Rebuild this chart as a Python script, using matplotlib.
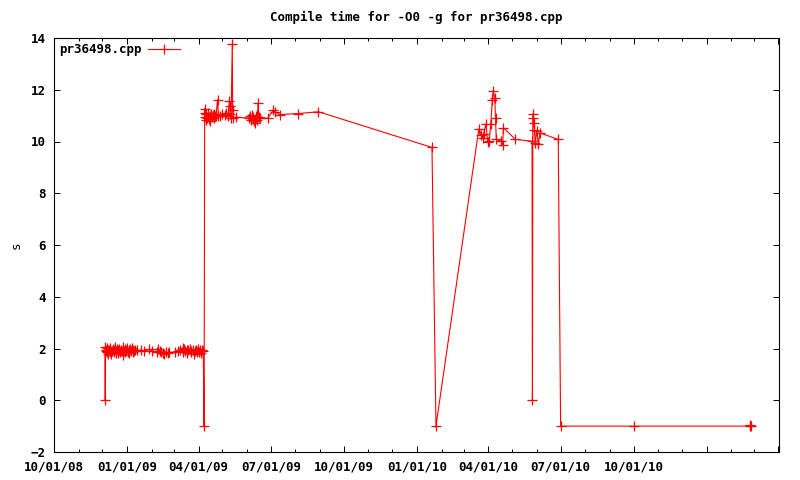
import numpy as np
import pandas as pd
import matplotlib
matplotlib.use('Agg')
import matplotlib.pyplot as plt
import matplotlib.dates as mdates
from matplotlib import rcParams, ticker

rcParams['font.family'] = ['DejaVu Sans Mono']
rcParams['font.size'] = 9
rcParams['font.weight'] = 'bold'
rcParams['axes.titleweight'] = 'bold'

title = 'Compile time for -O0 -g for pr36498.cpp'
series_name = 'pr36498.cpp'

# -O0 -g compile times (s), one entry per test run
run_dates = [
    '2008-12-04 00:00', '2008-12-04 12:00', '2008-12-05', '2008-12-06', '2008-12-06 12:00',
    '2008-12-07', '2008-12-08', '2008-12-08 12:00', '2008-12-09', '2008-12-10',
    '2008-12-10 12:00', '2008-12-11', '2008-12-12', '2008-12-13', '2008-12-14',
    '2008-12-15', '2008-12-16', '2008-12-17', '2008-12-17 12:00', '2008-12-18',
    '2008-12-19', '2008-12-20', '2008-12-21', '2008-12-22', '2008-12-23',
    '2008-12-24', '2008-12-26', '2008-12-27', '2008-12-27 12:00', '2008-12-28',
    '2008-12-29', '2008-12-30', '2008-12-31', '2009-01-01', '2009-01-02',
    '2009-01-03', '2009-01-04', '2009-01-05', '2009-01-06', '2009-01-07',
    '2009-01-08', '2009-01-09', '2009-01-10', '2009-01-11', '2009-01-14',
    '2009-01-19', '2009-01-22', '2009-01-29', '2009-02-01', '2009-02-08',
    '2009-02-09', '2009-02-11', '2009-02-13', '2009-02-15', '2009-02-17',
    '2009-02-19', '2009-02-21', '2009-02-23', '2009-03-03', '2009-03-06',
    '2009-03-09', '2009-03-12', '2009-03-13', '2009-03-14', '2009-03-15',
    '2009-03-17', '2009-03-18', '2009-03-19', '2009-03-21', '2009-03-22',
    '2009-03-23', '2009-03-25', '2009-03-26', '2009-03-27', '2009-03-29',
    '2009-03-30', '2009-03-31', '2009-04-02', '2009-04-03', '2009-04-04',
    '2009-04-06', '2009-04-07', '2009-04-08 00:00', '2009-04-08 18:00', '2009-04-09',
    '2009-04-09 12:00', '2009-04-10', '2009-04-11', '2009-04-12', '2009-04-13',
    '2009-04-14', '2009-04-15', '2009-04-16', '2009-04-17', '2009-04-18',
    '2009-04-19', '2009-04-20', '2009-04-21', '2009-04-22', '2009-04-23',
    '2009-04-25', '2009-04-26', '2009-04-28', '2009-05-01', '2009-05-04',
    '2009-05-06', '2009-05-08', '2009-05-10', '2009-05-10 12:00', '2009-05-11',
    '2009-05-12', '2009-05-13 12:00', '2009-05-14',
    '2009-05-15', '2009-05-18', '2009-06-04', '2009-06-05', '2009-06-06',
    '2009-06-07', '2009-06-08', '2009-06-09', '2009-06-10', '2009-06-11',
    '2009-06-12', '2009-06-13', '2009-06-14', '2009-06-15', '2009-06-16',
    '2009-06-17', '2009-06-27', '2009-07-04', '2009-07-06', '2009-07-12',
    '2009-08-04', '2009-08-30', '2010-01-20', '2010-01-25', '2010-03-20',
    '2010-03-23', '2010-03-25', '2010-03-26', '2010-03-29', '2010-03-31',
    '2010-04-02', '2010-04-04', '2010-04-06', '2010-04-07', '2010-04-09',
    '2010-04-10', '2010-04-11', '2010-04-17', '2010-04-19', '2010-04-20',
    '2010-05-05', '2010-05-26', '2010-05-26 12:00', '2010-05-27', '2010-05-27 12:00',
    '2010-05-28', '2010-05-29', '2010-05-30', '2010-06-01', '2010-06-03',
    '2010-06-05', '2010-06-28', '2010-07-01', '2010-10-02', '2011-02-24',
    '2011-02-25', '2011-02-26',
]
run_seconds = [
    2.05, 0.0, 1.95, 1.90, 2.02,
    1.85, 1.96, 1.80, 1.93, 2.03,
    1.88, 1.95, 1.78, 1.92, 1.99,
    1.86, 1.94, 2.05, 1.82, 1.90,
    1.97, 1.84, 1.93, 2.00, 1.87,
    1.95, 1.89, 2.04, 1.76, 1.92,
    1.98, 1.85, 1.94, 2.02, 1.88,
    1.95, 1.83, 1.97, 1.90, 2.01,
    1.86, 1.93, 1.89, 1.94, 1.93,
    1.93, 1.89, 1.97, 1.92, 1.85,
    1.97, 1.92, 1.88, 1.83, 1.80,
    1.86, 1.82, 1.85, 1.86, 1.90,
    1.94, 2.03, 1.85, 1.98, 1.90,
    1.95, 1.82, 1.93, 2.00, 1.87,
    1.92, 1.96, 1.80, 1.90, 1.94,
    1.85, 1.97, 1.88, 1.93, 1.84,
    1.96, 1.90, -1.0, 11.27, 10.95,
    11.10, 10.85, 11.05, 10.92, 11.12,
    10.88, 11.00, 10.80, 11.08, 10.95,
    11.02, 10.90, 11.05, 10.97, 11.00,
    11.62, 11.00, 10.98, 11.05, 11.02,
    11.10, 11.00, 11.56, 11.36, 11.05,
    10.90, 13.77, 11.20,
    10.90, 10.94, 10.90, 10.98, 10.85,
    11.02, 10.88, 10.95, 10.80, 10.72,
    10.90, 11.00, 10.85, 11.49, 10.95,
    10.90, 10.90, 11.20, 11.15, 11.04,
    11.08, 11.15, 9.77, -1.0, 10.49,
    10.27, 10.14, 10.30, 10.68, 9.99,
    10.01, 10.66, 11.62, 11.94, 11.69,
    10.92, 10.08, 10.01, 9.88, 10.53,
    10.08, 10.01, 0.0, 11.07, 10.91,
    10.72, 10.46, 9.95, 10.40, 9.91,
    10.33, 10.08, -1.0, -1.0, -1.0,
    -0.97, -1.0,
]

x_start, x_end = '2008-10-01', '2011-04-02'
label_last = '2010-10-01'

x = pd.to_datetime(run_dates, format='ISO8601')

fig = plt.figure(figsize=(8, 4.8), dpi=100)
ax = fig.add_axes([54/800, 28/480, 725/800, 414/480])

ax.plot(x, run_seconds, color='#ff0000', linewidth=0.8, marker='+',
        markersize=7, markeredgewidth=0.9, label=series_name)

ax.set_xlim(pd.Timestamp(x_start), pd.Timestamp(x_end))
ax.set_ylim(-2, 14)
ax.set_yticks(np.arange(-2, 15, 2))

ax.xaxis.set_major_locator(mdates.MonthLocator(bymonth=[1, 4, 7, 10]))
ax.xaxis.set_minor_locator(mdates.MonthLocator())
last_num = mdates.date2num(pd.Timestamp(label_last))


def date_label(v, pos):
    if v > last_num + 0.5:
        return ''
    return mdates.num2date(v).strftime('%m/%d/%y')


ax.xaxis.set_major_formatter(ticker.FuncFormatter(date_label))

ax.tick_params(which='both', direction='in', top=True, right=True, width=0.7)
ax.tick_params(which='major', length=4.5, pad=6)
ax.tick_params(which='minor', length=2.5)
for sp in ax.spines.values():
    sp.set_linewidth(0.8)

ax.set_title(title, fontsize=9, pad=12)
ax.set_ylabel('s', rotation=90, labelpad=6)

lg = ax.legend(loc='upper left', frameon=False, markerfirst=False,
               handlelength=2.6, borderaxespad=0.0, handletextpad=0.5)

fig.savefig('out.png', dpi=100)
